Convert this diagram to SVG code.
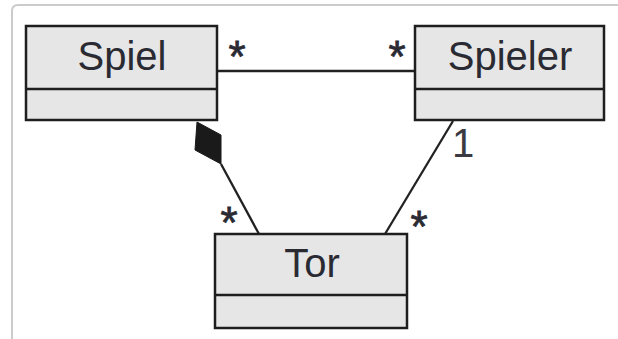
<svg xmlns="http://www.w3.org/2000/svg" width="618" height="339" viewBox="0 0 618 339">
<style>
.box{fill:#e6e6e6;stroke:#1e1e1e;stroke-width:2.5}
.name{font-family:"Liberation Sans",Arial,sans-serif;font-size:40px;fill:#2a2a33;text-anchor:middle}
.mult{font-family:"Liberation Sans",Arial,sans-serif;font-size:44px;fill:#2a2a33;stroke:#2a2a33;stroke-width:0.8;text-anchor:middle}
.one{font-family:"Liberation Sans",Arial,sans-serif;font-size:40px;fill:#3a3a40}
.conn{stroke:#222;stroke-width:2.3;fill:none}
</style>
<rect width="618" height="339" fill="#ffffff"/>
<path d="M12,345 V11 Q12,5 18,5 H625" fill="none" stroke="#cbcbcb" stroke-width="2"/>
<g id="connectors">
<line class="conn" x1="217" y1="71" x2="415" y2="71"/>
<polygon points="197,122 221,135 221,164 195,150" fill="#1a1a1a" stroke="#1a1a1a" stroke-width="1"/>
<line class="conn" x1="221" y1="164" x2="259" y2="234"/>
<line class="conn" x1="453" y1="121" x2="385" y2="234"/>
<text class="mult" x="237" y="72">*</text>
<text class="mult" x="397" y="72">*</text>
<text class="mult" x="229" y="238">*</text>
<text class="mult" x="419" y="242">*</text>
<text class="one" x="452" y="157">1</text>
</g>
<g id="Spiel">
<rect class="box" x="26" y="26" width="191" height="94"/>
<line x1="26" y1="89" x2="217" y2="89" stroke="#1e1e1e" stroke-width="2.5"/>
<text class="name" x="122" y="70">Spiel</text>
</g>
<g id="Spieler">
<rect class="box" x="415" y="26" width="189" height="94"/>
<line x1="415" y1="89" x2="604" y2="89" stroke="#1e1e1e" stroke-width="2.5"/>
<text class="name" x="510" y="70">Spieler</text>
</g>
<g id="Tor">
<rect class="box" x="215" y="234" width="192" height="94"/>
<line x1="215" y1="295" x2="407" y2="295" stroke="#1e1e1e" stroke-width="2.5"/>
<text class="name" x="312" y="277">Tor</text>
</g>
</svg>
